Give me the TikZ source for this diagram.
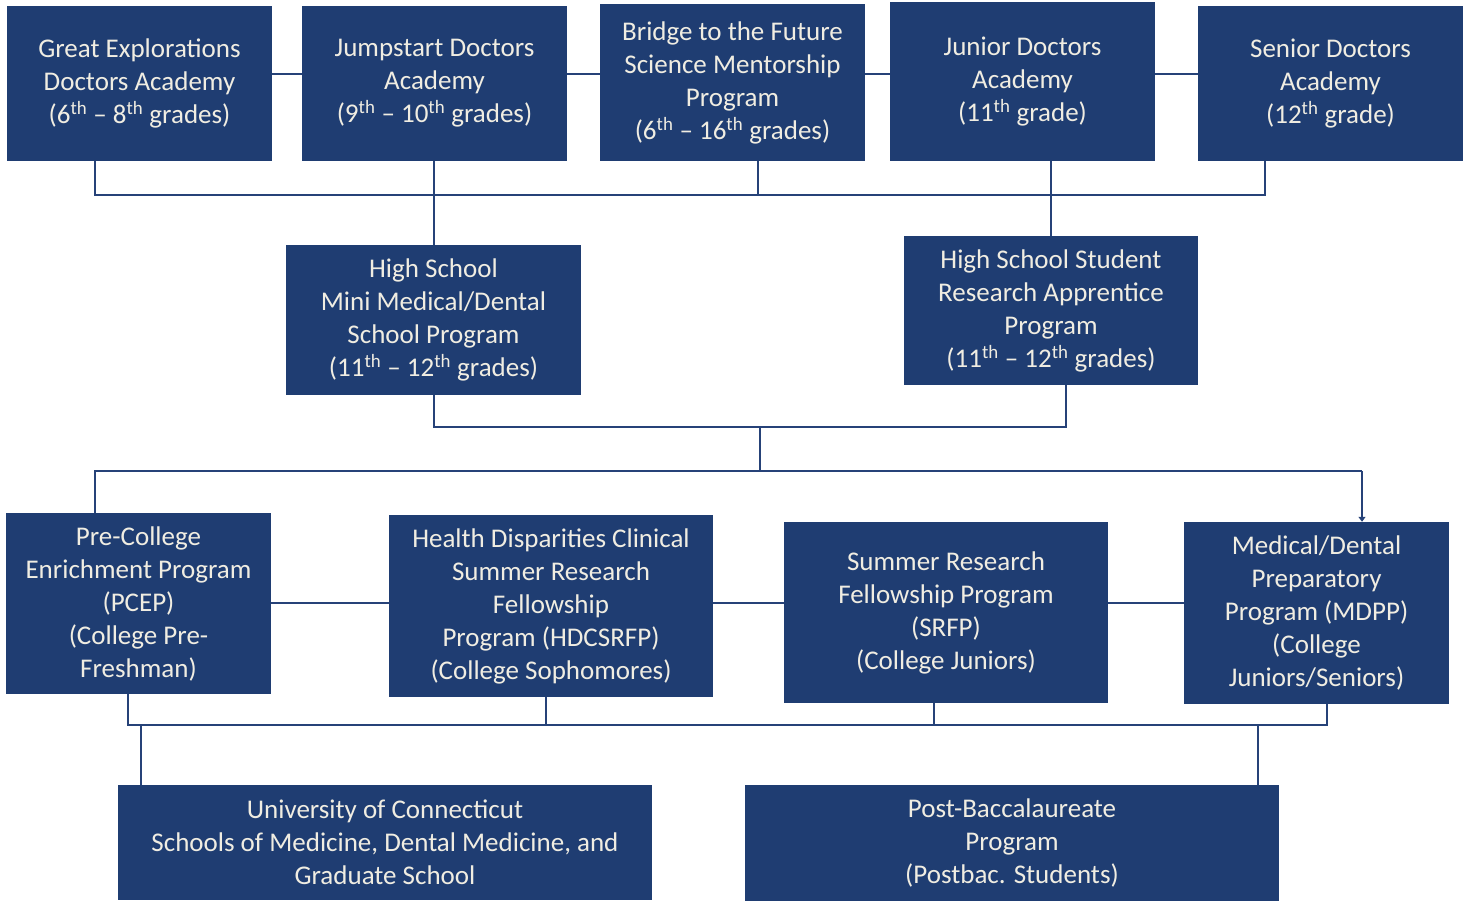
\documentclass[tikz,border=0pt]{standalone}
\usepackage{fontspec}
\setmainfont{Carlito}
\usetikzlibrary{arrows.meta}
\definecolor{boxblue}{RGB}{31,61,114}
\definecolor{linkblue}{RGB}{38,66,120}
\definecolor{boxtext}{RGB}{240,237,226}
\newcommand{\thsup}{\textsuperscript{th}}
\begin{document}
\begin{tikzpicture}[x=1pt,y=-1pt,
  box/.style={fill=boxblue, draw=none, inner sep=0pt, text=boxtext, align=center,
    font=\fontsize{27}{33}\selectfont},
  link/.style={draw=linkblue, line width=2pt}]
\useasboundingbox (0,0) rectangle (1465,902);
% top row
\node[box, minimum width=265pt, minimum height=155pt] (ge) at (139.5,83.5) {Great Explorations\\Doctors Academy\\(6\thsup{} – 8\thsup{} grades)};
\node[box, minimum width=265pt, minimum height=155pt] (js) at (434.5,83.5) {Jumpstart Doctors\\Academy\\(9\thsup{} – 10\thsup{} grades)};
\node[box, minimum width=265pt, minimum height=157pt] (bf) at (732.5,82.5) {Bridge to the Future\\Science Mentorship\\Program\\(6\thsup{} – 16\thsup{} grades)};
\node[box, minimum width=265pt, minimum height=159pt] (jd) at (1022.5,81.5) {Junior Doctors\\Academy\\(11\thsup{} grade)};
\node[box, minimum width=265pt, minimum height=155pt] (sd) at (1330.5,83.5) {Senior Doctors\\Academy\\(12\thsup{} grade)};
% middle row
\node[box, minimum width=295pt, minimum height=150pt] (hs) at (433.5,320) {High School\\Mini Medical/Dental\\School Program\\(11\thsup{} – 12\thsup{} grades)};
\node[box, minimum width=294pt, minimum height=149pt] (ra) at (1051,310.5) {High School Student\\Research Apprentice\\Program\\(11\thsup{} – 12\thsup{} grades)};
% lower row
\node[box, minimum width=265pt, minimum height=181pt] (pc) at (138.5,603.5) {Pre-College\\Enrichment Program\\(PCEP)\\(College Pre-\\Freshman)};
\node[box, minimum width=324pt, minimum height=182pt] (hd) at (551,606) {Health Disparities Clinical\\Summer Research\\Fellowship\\Program (HDCSRFP)\\(College Sophomores)};
\node[box, minimum width=324pt, minimum height=181pt] (sr) at (946,612.5) {Summer Research\\Fellowship Program\\(SRFP)\\(College Juniors)};
\node[box, minimum width=265pt, minimum height=182pt] (md) at (1316.5,613) {Medical/Dental\\Preparatory\\Program (MDPP)\\(College\\Juniors/Seniors)};
% bottom row
\node[box, minimum width=534pt, minimum height=115pt] (uc) at (385,842.5) {University of Connecticut\\Schools of Medicine, Dental Medicine, and\\Graduate School};
\node[box, minimum width=534pt, minimum height=116pt] (pb) at (1012,843) {Post-Baccalaureate\\Program\\(Postbac. Students)};
% helper coordinates
\coordinate (toprow) at (0,74);
\coordinate (bus1) at (0,195);
\coordinate (bus2) at (0,427);
\coordinate (bus3) at (0,471);
\coordinate (lowrow) at (0,603);
\coordinate (bus4) at (0,725);
\coordinate (geD) at (95,0);
\coordinate (bfD) at (758,0);
\coordinate (sdD) at (1265,0);
\coordinate (raD) at (1066,0);
\coordinate (midD) at (760,0);
\coordinate (pcD) at (128,0);
\coordinate (hdD) at (546,0);
\coordinate (srD) at (934,0);
\coordinate (mdD) at (1327,0);
\coordinate (mdA) at (1362,0);
\coordinate (ucU) at (141,0);
\coordinate (pbU) at (1258,0);
% top row links
\draw[link] (ge.east |- toprow) -- (js.west |- toprow);
\draw[link] (js.east |- toprow) -- (bf.west |- toprow);
\draw[link] (bf.east |- toprow) -- (jd.west |- toprow);
\draw[link] (jd.east |- toprow) -- (sd.west |- toprow);
% top drops and bus
\draw[link] (geD |- ge.south) -- (geD |- bus1) -- (sdD |- bus1) -- (sdD |- sd.south);
\draw[link] (bfD |- bf.south) -- (bfD |- bus1);
\draw[link] (hs.north |- js.south) -- (hs.north);
\draw[link] (ra.north |- jd.south) -- (ra.north);
% middle to lower
\draw[link] (hs.south) -- (hs.south |- bus2) -- (raD |- bus2) -- (raD |- ra.south);
\draw[link] (midD |- bus2) -- (midD |- bus3);
\draw[link] (geD |- pc.north) -- (geD |- bus3) -- (mdA |- bus3);
\draw[link, -{Triangle[width=7pt,length=5pt]}] (mdA |- bus3) -- (mdA |- md.north);
% lower row links
\draw[link] (pc.east |- lowrow) -- (hd.west |- lowrow);
\draw[link] (hd.east |- lowrow) -- (sr.west |- lowrow);
\draw[link] (sr.east |- lowrow) -- (md.west |- lowrow);
% lower drops and bus
\draw[link] (pcD |- pc.south) -- (pcD |- bus4) -- (mdD |- bus4) -- (mdD |- md.south);
\draw[link] (hdD |- hd.south) -- (hdD |- bus4);
\draw[link] (srD |- sr.south) -- (srD |- bus4);
\draw[link] (ucU |- bus4) -- (ucU |- uc.north);
\draw[link] (pbU |- bus4) -- (pbU |- pb.north);
\end{tikzpicture}
\end{document}
